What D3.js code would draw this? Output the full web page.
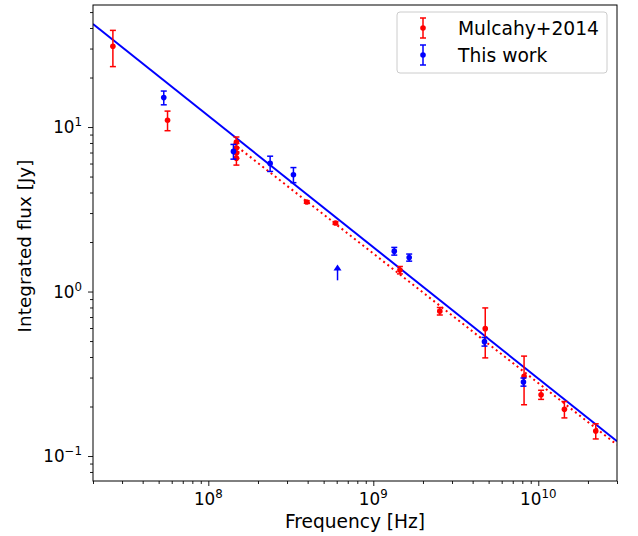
<!DOCTYPE html>
<html>
<head>
<meta charset="utf-8">
<script src="https://cdn.jsdelivr.net/npm/d3@7"></script>
<style>
  html, body { margin: 0; padding: 0; background: #fff; }
  svg { display: block; font-family: "DejaVu Sans", sans-serif; }
</style>
</head>
<body>
<svg id="chart" width="638" height="536"></svg>
<script>
// ---- Data ----
const mulcahyFreq = [2.64e7, 5.66e7, 1.48e8, 1.48e8, 1.48e8, 1.48e8, 3.95e8, 5.9e8, 1.45e9, 2.53e9, 4.77e9, 8.2e9, 1.04e10, 1.44e10, 2.23e10];
const mulcahyFlux = [31, 11.0, 8.1, 7.45, 6.95, 6.47, 3.50, 2.61, 1.35, 0.76, 0.595, 0.305, 0.236, 0.1925, 0.142];
const mulcahyErr  = [7.7, 1.5, 0.6, 0.5, 0.5, 0.6, 0.06, 0.05, 0.07, 0.04, 0.2, 0.1, 0.015, 0.022, 0.015];

const thisFreq = [5.37e7, 1.42e8, 2.37e8, 3.28e8, 1.34e9, 1.65e9, 4.72e9, 8.13e9];
const thisFlux = [15.1, 7.11, 6.01, 5.13, 1.76, 1.61, 0.496, 0.282];
const thisErr  = [1.45, 0.73, 0.64, 0.54, 0.095, 0.08, 0.03, 0.016];

// lower limit (arrow) from This work
const limitFreq = [6.07e8];
const limitFlux = [1.17];
const limitTop  = [1.46];

// power-law fits (end points)
const fitThisFreq = [2e7, 3e10];
const fitThisFlux = [42.3, 0.123];
const fitMulFreq = [1.5e8, 3e10];
const fitMulFlux = [7.58, 0.117];

const xMajor = [1e8, 1e9, 1e10];
const xMajorExp = ["8", "9", "10"];
const yMajor = [1e-1, 1, 10];
const yMajorExp = ["\u22121", "0", "1"];

const legendLabels = ["Mulcahy+2014", "This work"];
const legendColors = ["red", "blue"];

// ---- Layout ----
const svg = d3.select("#chart");
const L = 93, R = 617, T = 5, B = 481;
const x = d3.scaleLog().domain([2e7, 3e10]).range([L, R]);
const y = d3.scaleLog().domain([0.0705, 55.2]).range([B, T]);

function minorTicks(domain) {
  const out = [];
  const lo = Math.floor(Math.log10(domain[0])), hi = Math.ceil(Math.log10(domain[1]));
  for (let e = lo; e <= hi; e++) {
    for (let m = 2; m <= 9; m++) {
      const v = m * Math.pow(10, e);
      if (v >= domain[0] && v <= domain[1]) out.push(v);
    }
  }
  return out;
}

// axes
const gx = svg.append("g").attr("transform", `translate(0,${B})`);
gx.call(d3.axisBottom(x).tickValues(minorTicks(x.domain())).tickSize(3).tickFormat(""));
const gx2 = svg.append("g").attr("transform", `translate(0,${B})`);
gx2.call(d3.axisBottom(x).tickValues(xMajor).tickSize(5).tickFormat(""));
const gy = svg.append("g").attr("transform", `translate(${L},0)`);
gy.call(d3.axisLeft(y).tickValues(minorTicks(y.domain())).tickSize(3).tickFormat(""));
const gy2 = svg.append("g").attr("transform", `translate(${L},0)`);
gy2.call(d3.axisLeft(y).tickValues(yMajor).tickSize(5).tickFormat(""));
svg.selectAll(".domain").remove();
svg.selectAll(".tick line").attr("stroke", "#000").attr("stroke-width", 0.9);

// tick labels
xMajor.forEach((v, i) => {
  const t = svg.append("text").attr("x", x(v)).attr("y", 505)
    .attr("text-anchor", "middle").attr("font-size", 16.8).attr("fill", "#000");
  t.append("tspan").text("10");
  t.append("tspan").attr("dy", -7).attr("font-size", 11.8).text(xMajorExp[i]);
});
yMajor.forEach((v, i) => {
  const t = svg.append("text").attr("x", 82).attr("y", y(v) + 6)
    .attr("text-anchor", "end").attr("font-size", 16.8).attr("fill", "#000");
  t.append("tspan").text("10");
  t.append("tspan").attr("dy", -7).attr("font-size", 11.8).text(yMajorExp[i]);
});

// axis labels
svg.append("text").attr("x", (L + R) / 2).attr("y", 528).attr("text-anchor", "middle")
  .attr("font-size", 18.6).text("Frequency [Hz]");
svg.append("text").attr("transform", `translate(31,246) rotate(-90)`).attr("text-anchor", "middle")
  .attr("font-size", 18.4).text("Integrated flux [Jy]");

// clip
svg.append("clipPath").attr("id", "clip").append("rect")
  .attr("x", L).attr("y", T).attr("width", R - L).attr("height", B - T);
const plot = svg.append("g").attr("clip-path", "url(#clip)");

const line = d3.line().x(d => x(d[0])).y(d => y(d[1]));
plot.append("path").datum(d3.zip(fitMulFreq, fitMulFlux)).attr("d", line)
  .attr("fill", "none").attr("stroke", "red").attr("stroke-width", 2)
  .attr("stroke-dasharray", "2,3.3");
plot.append("path").datum(d3.zip(fitThisFreq, fitThisFlux)).attr("d", line)
  .attr("fill", "none").attr("stroke", "blue").attr("stroke-width", 2);

function errorbars(g, fr, fl, er, color) {
  const data = d3.zip(fr, fl, er);
  const gg = g.append("g");
  gg.selectAll("line.eb").data(data).join("line").attr("class", "eb")
    .attr("x1", d => x(d[0])).attr("x2", d => x(d[0]))
    .attr("y1", d => y(d[1] + d[2])).attr("y2", d => y(d[1] - d[2]))
    .attr("stroke", color).attr("stroke-width", 1.5);
  [1, -1].forEach(s => {
    gg.selectAll("line.cap" + s).data(data).join("line").attr("class", "cap" + s)
      .attr("x1", d => x(d[0]) - 3).attr("x2", d => x(d[0]) + 3)
      .attr("y1", d => y(d[1] + s * d[2])).attr("y2", d => y(d[1] + s * d[2]))
      .attr("stroke", color).attr("stroke-width", 1.5);
  });
  gg.selectAll("circle").data(data).join("circle")
    .attr("cx", d => x(d[0])).attr("cy", d => y(d[1])).attr("r", 2.8).attr("fill", color);
}
errorbars(plot, mulcahyFreq, mulcahyFlux, mulcahyErr, "red");
errorbars(plot, thisFreq, thisFlux, thisErr, "blue");

// lower-limit arrow
d3.zip(limitFreq, limitFlux, limitTop).forEach(d => {
  const cx = x(d[0]), y0 = y(d[1]), y1 = y(d[2]);
  plot.append("line").attr("x1", cx).attr("x2", cx).attr("y1", y0).attr("y2", y1 + 4)
    .attr("stroke", "blue").attr("stroke-width", 1.5);
  plot.append("path").attr("d", `M${cx - 4},${y1 + 6} L${cx},${y1} L${cx + 4},${y1 + 6} Z`)
    .attr("fill", "blue");
});

// frame
svg.append("rect").attr("x", L).attr("y", T).attr("width", R - L).attr("height", B - T)
  .attr("fill", "none").attr("stroke", "#000").attr("stroke-width", 1);

// legend
const lg = svg.append("g");
lg.append("rect").attr("x", 397).attr("y", 12).attr("width", 210).attr("height", 61).attr("rx", 3)
  .attr("fill", "#fff").attr("fill-opacity", 0.8).attr("stroke", "#ccc").attr("stroke-width", 1);
legendLabels.forEach((lab, i) => {
  const cy = 28 + i * 27, cx = 423, c = legendColors[i];
  lg.append("line").attr("x1", cx).attr("x2", cx).attr("y1", cy - 10).attr("y2", cy + 10)
    .attr("stroke", c).attr("stroke-width", 1.5);
  [-10, 10].forEach(o => lg.append("line").attr("x1", cx - 3).attr("x2", cx + 3)
    .attr("y1", cy + o).attr("y2", cy + o).attr("stroke", c).attr("stroke-width", 1.5));
  lg.append("circle").attr("cx", cx).attr("cy", cy).attr("r", 2.8).attr("fill", c);
  lg.append("text").attr("x", 458).attr("y", cy + 6.5).attr("font-size", 18.7).text(lab);
});
</script>
</body>
</html>
